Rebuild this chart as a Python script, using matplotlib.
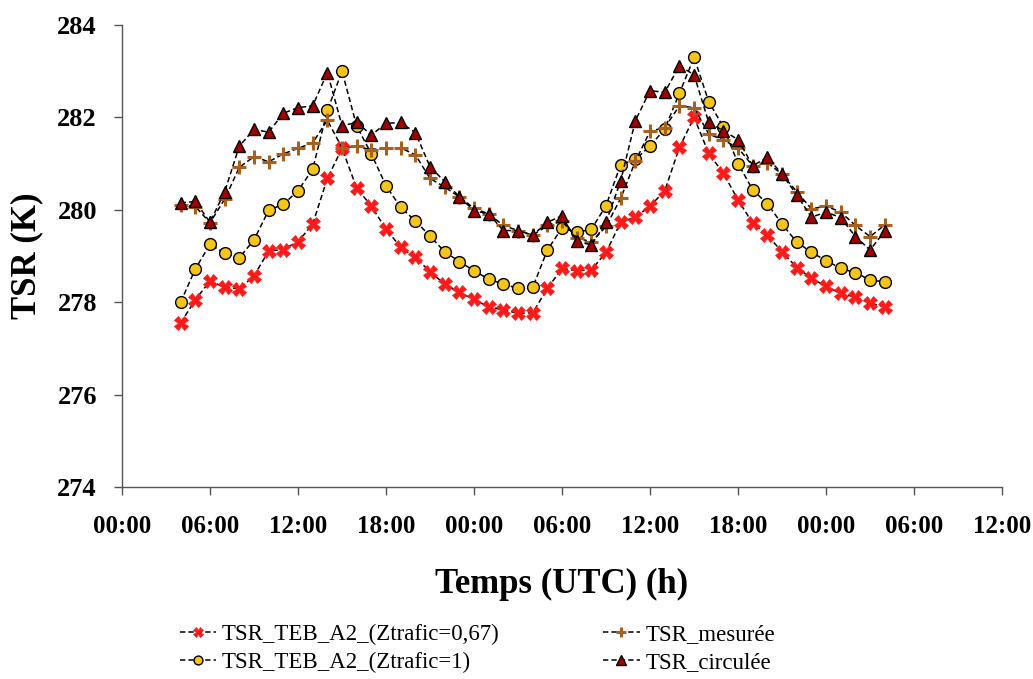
import matplotlib
matplotlib.use("Agg")
import matplotlib.pyplot as plt

hours = list(range(4, 53))

tsr_067 = [277.55, 278.05, 278.46, 278.32, 278.29, 278.57, 279.11, 279.14, 279.31, 279.69,
           280.68, 281.33, 280.47, 280.08, 279.58, 279.19, 278.97, 278.66, 278.39, 278.21,
           278.06, 277.90, 277.83, 277.76, 277.77, 278.30, 278.73, 278.68, 278.70, 279.08,
           279.73, 279.84, 280.08, 280.41, 281.35, 282.00, 281.22, 280.79, 280.21, 279.71,
           279.45, 279.09, 278.75, 278.52, 278.34, 278.19, 278.11, 277.98, 277.90]

tsr_1 = [278.00, 278.72, 279.25, 279.06, 278.96, 279.35, 279.99, 280.12, 280.41, 280.88,
         282.15, 283.00, 281.81, 281.21, 280.52, 280.05, 279.76, 279.43, 279.09, 278.88,
         278.68, 278.50, 278.39, 278.30, 278.32, 279.13, 279.61, 279.51, 279.58, 280.09,
         280.98, 281.09, 281.38, 281.75, 282.52, 283.30, 282.34, 281.79, 281.00, 280.43,
         280.13, 279.69, 279.30, 279.08, 278.90, 278.73, 278.64, 278.48, 278.44]

tsr_mesuree = [280.10, 280.07, 279.72, 280.23, 280.92, 281.15, 281.04, 281.21, 281.33, 281.45,
               281.94, 281.34, 281.37, 281.30, 281.34, 281.34, 281.19, 280.68, 280.49, 280.28,
               280.03, 279.91, 279.66, 279.55, 279.45, 279.66, 279.75, 279.40, 279.30, 279.64,
               280.25, 281.05, 281.70, 281.78, 282.25, 282.21, 281.64, 281.51, 281.34, 280.95,
               281.02, 280.77, 280.39, 280.02, 280.08, 279.95, 279.66, 279.42, 279.67]

tsr_circulee = [280.15, 280.18, 279.73, 280.39, 281.38, 281.74, 281.68, 282.09, 282.21, 282.25,
                282.97, 281.82, 281.89, 281.62, 281.87, 281.89, 281.67, 280.93, 280.61, 280.28,
                279.98, 279.91, 279.55, 279.55, 279.45, 279.73, 279.87, 279.32, 279.24, 279.73,
                280.63, 281.93, 282.58, 282.54, 283.12, 282.92, 281.89, 281.71, 281.52, 280.95,
                281.14, 280.77, 280.32, 279.84, 279.95, 279.83, 279.42, 279.13, 279.54]

labels = ["TSR_TEB_A2_(Ztrafic=0,67)", "TSR_TEB_A2_(Ztrafic=1)", "TSR_mesurée", "TSR_circulée"]
xtick_labels = ["00:00", "06:00", "12:00", "18:00", "00:00", "06:00", "12:00",
                "18:00", "00:00", "06:00", "12:00"]

plt.rcParams['font.family'] = ['Liberation Serif', 'DejaVu Serif']

fig = plt.figure(figsize=(10.33, 6.79), dpi=100)
ax = fig.add_axes([0.1181, 0.2828, 0.852, 0.6804])

ls = dict(color='black', linestyle=(0, (3.5, 2)), linewidth=1.1)
l1, = ax.plot(hours, tsr_067, marker='X', markersize=9.5, markerfacecolor='#ff1a1a',
              markeredgecolor='#ff1a1a', markeredgewidth=0.5, zorder=3, **ls)
l2, = ax.plot(hours, tsr_1, marker='o', markersize=8.5, markerfacecolor='#f5c518',
              markeredgecolor='black', markeredgewidth=1.0, zorder=4, **ls)
l3, = ax.plot(hours, tsr_mesuree, marker='+', markersize=10, markeredgecolor='#a8601e',
              markeredgewidth=2.2, zorder=5, **ls)
l4, = ax.plot(hours, tsr_circulee, marker='^', markersize=9, markerfacecolor='#a00000',
              markeredgecolor='black', markeredgewidth=1.0, zorder=6, **ls)

ax.set_xlim(0, 60)
ax.set_ylim(274, 284)
ax.set_xticks(range(0, 61, 6))
ax.set_xticklabels(xtick_labels)
ax.set_yticks(range(274, 285, 2))
for s in ['top', 'right']:
    ax.spines[s].set_visible(False)
for s in ['left', 'bottom']:
    ax.spines[s].set_color('#555555')
    ax.spines[s].set_linewidth(1.0)
ax.tick_params(axis='both', direction='out', length=6, width=1.0, color='#555555')
ax.tick_params(axis='x', pad=14)
ax.tick_params(axis='y', pad=12)
for t in ax.get_xticklabels():
    t.set_fontsize(18)
    t.set_fontweight('bold')
for t in ax.get_yticklabels():
    t.set_fontsize(19)
    t.set_fontweight('bold')

ax.set_ylabel("TSR (K)", fontsize=25, fontweight='bold', labelpad=10)
ax.set_xlabel("Temps (UTC) (h)", fontsize=25, fontweight='bold', labelpad=22)

fig.legend([l1, l2, l3, l4], labels, ncol=2, loc='lower center',
           bbox_to_anchor=(0.462, -0.022), frameon=False, fontsize=16.5,
           handlelength=1.6, columnspacing=4.5, labelspacing=0.3, handletextpad=0.25,
           markerscale=0.75)

fig.savefig("out.png", dpi=100)
